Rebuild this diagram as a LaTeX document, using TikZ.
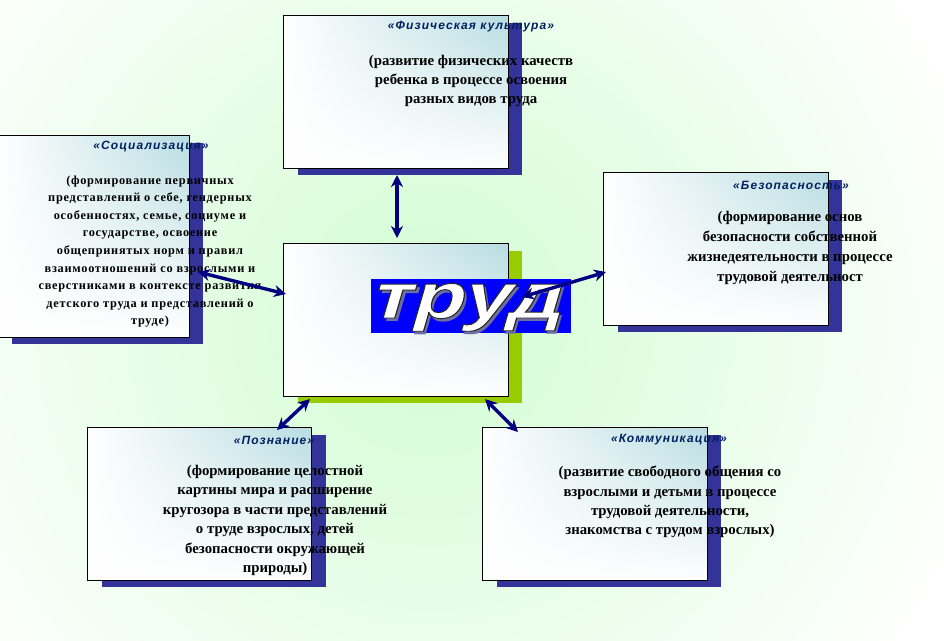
\documentclass[tikz,border=0pt]{standalone}
\usepackage{fontspec}
\usepackage{graphicx}
\setmainfont{Liberation Serif}
\newfontfamily\titlefont[LetterSpace=9]{Liberation Sans}
\newfontfamily\socialfont[LetterSpace=6]{Liberation Serif}
\newfontfamily\trudfont[FakeSlant=0.22]{Liberation Sans}
\usetikzlibrary{arrows.meta,shadows,fadings}
\definecolor{bggreen}{RGB}{210,252,210}
\definecolor{cardteal}{RGB}{184,221,226}
\definecolor{shadownavy}{RGB}{51,51,153}
\definecolor{shadowgreen}{RGB}{153,204,0}
\definecolor{headnavy}{RGB}{0,32,96}
\definecolor{linknavy}{RGB}{0,0,128}
\definecolor{trudblue}{RGB}{0,0,255}
\definecolor{trudshade}{RGB}{110,110,160}
\tikzset{
  plate/.style={fill=white, inner sep=0pt,
    minimum width=224pt, minimum height=152pt},
  card/.style={plate, drop shadow={shadow xshift=14pt, shadow yshift=-7pt,
    fill=shadownavy, opacity=1}},
  hub/.style={plate, drop shadow={shadow xshift=14pt, shadow yshift=-7pt,
    fill=shadowgreen, opacity=1}},
  heading/.style={font=\titlefont\bfseries\itshape\fontsize{12}{14}\selectfont,
    text=headnavy, inner sep=0pt},
  body/.style={font=\bfseries\fontsize{14.8}{19.4}\selectfont, align=center, inner sep=0pt},
  trudword/.style={font=\trudfont\bfseries\fontsize{64}{64}\selectfont, inner sep=0pt, anchor=base},
  link/.style={{Stealth[length=12pt,width=12pt]}-{Stealth[length=12pt,width=12pt]},
    line width=3.4pt, draw=linknavy}
}
\begin{document}
\begin{tikzpicture}[x=1pt,y=-1pt]
	\useasboundingbox (0,0) rectangle (944,640);
	% background
	\fill[white] (0,0) rectangle (944,640);
	\begin{scope}
		\clip (0,0) rectangle (944,640);
		\shade[inner color=bggreen, outer color=white] (430,320) circle (580pt);
	\end{scope}
	% cards
	\node[card] (phys) at (396,92) {};
	\node[card, minimum width=191pt, minimum height=201pt] (social) at (93.5,236.5) {};
	\node[card] (safety) at (716,249) {};
	\node[card] (cogn) at (199.5,504) {};
	\node[card] (comm) at (595,504) {};
	\node[hub] (hubbox) at (396,320) {};
	\foreach \c in {phys,social,safety,cogn,comm,hubbox}{
		\shade[left color=white, middle color=cardteal!40!white, right color=cardteal]
			(\c.south west) rectangle (\c.north east);
		\fill[white, path fading=north] (\c.south west) rectangle (\c.north east);
		\draw[line width=0.8pt] (\c.south west) rectangle (\c.north east);
	}
	% texts
	\node[heading] (physhead) at (471,27) {«Физическая культура»};
	\node[body] (phystext) at (471,81) {(развитие физических качеств\\ребенка в процессе освоения\\разных видов труда};
	\node[heading] (socialhead) at (151,147) {«Социализация»};
	\node[body, font=\socialfont\bfseries\fontsize{12.3}{17.6}\selectfont] (socialtext) at (150,251.5) {(формирование первичных\\представлений о себе, гендерных\\особенностях, семье, социуме и\\государстве, освоение\\общепринятых норм и правил\\взаимоотношений со взрослыми и\\сверстниками в контексте развития\\детского труда и представлений о\\труде)};
	\node[heading] (safetyhead) at (791,185) {«Безопасность»};
	\node[body, font=\bfseries\fontsize{14.8}{20}\selectfont] (safetytext) at (790,248) {(формирование основ\\безопасности собственной\\жизнедеятельности в процессе\\трудовой деятельност};
	\node[heading] (cognhead) at (274,440) {«Познание»};
	\node[body] (cogntext) at (275,520.5) {(формирование целостной\\картины мира и расширение\\кругозора в части представлений\\о труде взрослых, детей\\безопасности окружающей\\природы)};
	\node[heading] (commhead) at (669,440) {«Коммуникация»};
	\node[body] (commtext) at (670,502) {(развитие свободного общения со\\взрослыми и детьми в процессе\\трудовой деятельности,\\знакомства с трудом взрослых)};
	% banner
	\node[fill=trudblue, minimum width=200pt, minimum height=54pt, inner sep=0pt] (banner) at (471,306) {};
	\node[trudword, text=trudshade] (trudshadow) at (467,321) {\scalebox{1.33}[1]{труд}};
	\node[trudword, text=white] (trud) at (464,318) {\special{pdf:literal direct 0.9 w 0.15 0.15 0.15 RG 2 Tr}\scalebox{1.33}[1]{труд}\special{pdf:literal direct 0 Tr}};
	% links
	\coordinate (physend) at (397,175);
	\coordinate (hubtop) at (397,238);
	\coordinate (socialend) at (198,272);
	\coordinate (hubleft) at (286,294);
	\coordinate (hubright) at (522,297);
	\coordinate (safetyend) at (606,272);
	\coordinate (hubsw) at (310,399);
	\coordinate (cognend) at (277,430);
	\coordinate (hubse) at (485,399);
	\coordinate (commend) at (518,432);
	\draw[link] (physend) -- (hubtop);
	\draw[link] (socialend) -- (hubleft);
	\draw[link] (hubright) -- (safetyend);
	\draw[link] (hubsw) -- (cognend);
	\draw[link] (hubse) -- (commend);
\end{tikzpicture}
\end{document}
